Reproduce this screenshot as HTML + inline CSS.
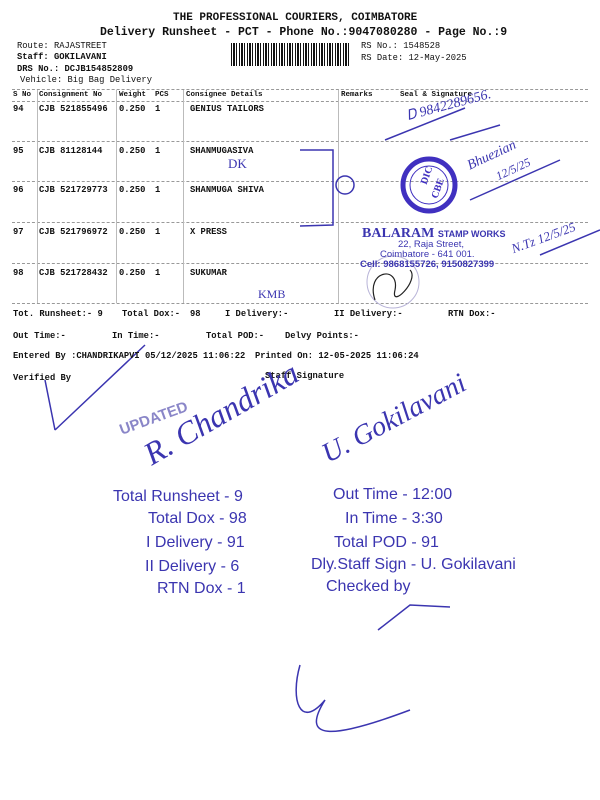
<!DOCTYPE html>
<html><head><meta charset="utf-8"><style>
body{margin:0;width:600px;height:800px;background:#fff;position:relative;overflow:hidden;font-family:"Liberation Mono",monospace;color:#111}
.t{position:absolute;white-space:nowrap;font-size:8.8px;font-weight:bold}
.h{position:absolute;white-space:nowrap;font-family:"Liberation Serif",serif;font-style:italic;color:#3b35b0}
.hl{position:absolute;border-top:1px dashed #999;left:12px;width:576px}
.vl{position:absolute;border-left:1px solid #bbb;top:90px;height:213px}
.g{position:absolute;white-space:nowrap;font-family:"Liberation Sans",sans-serif;color:#3b35b0;font-size:16px}
</style></head><body>
<div class="t" style="left:173px;top:12px;font-size:11px">THE PROFESSIONAL COURIERS, COIMBATORE</div>
<div class="t" style="left:100px;top:26px;font-size:11.5px">Delivery Runsheet - PCT - Phone No.:9047080280 - Page No.:9</div>
<div class="t" style="left:17px;top:41px;font-weight:normal">Route: RAJASTREET</div>
<div class="t" style="left:17px;top:52px">Staff: GOKILAVANI</div>
<div class="t" style="left:17px;top:64px">DRS No.: DCJB154852809</div>
<div class="t" style="left:20px;top:75px;font-weight:normal">Vehicle: Big Bag Delivery</div>
<div style="position:absolute;left:231px;top:43px;width:120px;height:23px;background:repeating-linear-gradient(90deg,#111 0 1px,#fff 1px 2px,#111 2px 4px,#fff 4px 5px,#111 5px 6px,#fff 6px 8px)"></div>
<div class="t" style="left:361px;top:41px;font-weight:normal">RS No.: 1548528</div>
<div class="t" style="left:361px;top:53px;font-weight:normal">RS Date: 12-May-2025</div>
<div class="hl" style="top:89px"></div><div class="hl" style="top:101px"></div>
<div class="hl" style="top:141px"></div><div class="hl" style="top:181px"></div>
<div class="hl" style="top:222px"></div><div class="hl" style="top:263px"></div>
<div class="hl" style="top:303px"></div>
<div class="vl" style="left:37px"></div><div class="vl" style="left:116px"></div><div class="vl" style="left:183px"></div><div class="vl" style="left:338px"></div>
<div class="t" style="left:13px;top:91px;font-size:7.5px">S No</div>
<div class="t" style="left:39px;top:91px;font-size:7.5px">Consignment No</div>
<div class="t" style="left:119px;top:91px;font-size:7.5px">Weight</div>
<div class="t" style="left:155px;top:91px;font-size:7.5px">PCS</div>
<div class="t" style="left:186px;top:91px;font-size:7.5px">Consignee Details</div>
<div class="t" style="left:341px;top:91px;font-size:7.5px">Remarks</div>
<div class="t" style="left:400px;top:91px;font-size:7.5px">Seal &amp; Signature</div>
<div class="t" style="left:13px;top:104px">94</div><div class="t" style="left:39px;top:104px">CJB 521855496</div><div class="t" style="left:119px;top:104px">0.250</div><div class="t" style="left:155px;top:104px">1</div><div class="t" style="left:190px;top:104px">GENIUS TAILORS</div>
<div class="t" style="left:13px;top:146px">95</div><div class="t" style="left:39px;top:146px">CJB 81128144</div><div class="t" style="left:119px;top:146px">0.250</div><div class="t" style="left:155px;top:146px">1</div><div class="t" style="left:190px;top:146px">SHANMUGASIVA</div>
<div class="t" style="left:13px;top:185px">96</div><div class="t" style="left:39px;top:185px">CJB 521729773</div><div class="t" style="left:119px;top:185px">0.250</div><div class="t" style="left:155px;top:185px">1</div><div class="t" style="left:190px;top:185px">SHANMUGA SHIVA</div>
<div class="t" style="left:13px;top:227px">97</div><div class="t" style="left:39px;top:227px">CJB 521796972</div><div class="t" style="left:119px;top:227px">0.250</div><div class="t" style="left:155px;top:227px">1</div><div class="t" style="left:190px;top:227px">X PRESS</div>
<div class="t" style="left:13px;top:268px">98</div><div class="t" style="left:39px;top:268px">CJB 521728432</div><div class="t" style="left:119px;top:268px">0.250</div><div class="t" style="left:155px;top:268px">1</div><div class="t" style="left:190px;top:268px">SUKUMAR</div>
<div class="h" style="left:228px;top:156px;font-size:13px;font-style:normal">DK</div>
<div class="h" style="left:258px;top:287px;font-size:12px;font-style:normal">KMB</div>
<svg style="position:absolute;left:0;top:0" width="600" height="800">
<g fill="none" stroke="#3b35b0" stroke-width="1.5">
<path d="M300 150 L333 150 L333 225 L300 226"/><circle cx="345" cy="185" r="9"/>
<path d="M385 140 L465 108 M450 140 L500 125 M470 200 L560 160 M540 255 L600 230"/>
<path d="M55 430 L45 380 M55 430 L145 345"/>
<path d="M378 630 L410 605 L450 607"/>
<path d="M300 665 C290 700 300 730 325 700 C300 740 330 740 410 710"/>
</g>
<circle cx="429" cy="185" r="26" fill="none" stroke="#4030c0" stroke-width="5"/>
<circle cx="429" cy="185" r="19" fill="none" stroke="#4030c0" stroke-width="1"/>
<circle cx="393" cy="282" r="26" fill="none" stroke="#b8b4d8" stroke-width="1"/>
<path d="M375 300 C365 270 400 265 395 290 C390 310 420 280 410 270" fill="none" stroke="#222" stroke-width="1.2"/>
</svg>
<div class="t" style="left:418px;top:170px;color:#4030c0;font-family:'Liberation Serif',serif;font-size:10px;transform:rotate(-70deg)">DIC</div>
<div class="t" style="left:428px;top:183px;color:#4030c0;font-family:'Liberation Serif',serif;font-size:10px;transform:rotate(-70deg)">CBE</div>
<div class="h" style="left:406px;top:98px;font-size:14px;transform:rotate(-15deg)">Ꭰ 9842289656.</div>
<div class="h" style="left:466px;top:148px;font-size:14px;transform:rotate(-25deg)">Bhuezian</div>
<div class="h" style="left:495px;top:162px;font-size:12px;transform:rotate(-25deg)">12/5/25</div>
<div class="h" style="left:510px;top:230px;font-size:13px;transform:rotate(-20deg)">N.Tz 12/5/25</div>
<div class="t" style="left:362px;top:226px;color:#3b35b0;font-family:'Liberation Serif',serif;font-size:14px">BALARAM <span style="font-family:'Liberation Sans',sans-serif;font-size:9px">STAMP WORKS</span></div>
<div class="t" style="left:398px;top:239px;color:#3b35b0;font-family:'Liberation Sans',sans-serif;font-size:9.5px;font-weight:normal">22, Raja Street,</div>
<div class="t" style="left:380px;top:249px;color:#3b35b0;font-family:'Liberation Sans',sans-serif;font-size:9.5px;font-weight:normal">Coimbatore - 641 001.</div>
<div class="t" style="left:360px;top:259px;color:#3b35b0;font-family:'Liberation Sans',sans-serif;font-size:9.5px">Cell: 9868155726, 9150827399</div>
<div class="t" style="left:13px;top:309px">Tot. Runsheet:- 9</div><div class="t" style="left:122px;top:309px">Total Dox:-</div><div class="t" style="left:190px;top:309px">98</div><div class="t" style="left:225px;top:309px">I Delivery:-</div><div class="t" style="left:334px;top:309px">II Delivery:-</div><div class="t" style="left:448px;top:309px">RTN Dox:-</div>
<div class="t" style="left:13px;top:331px">Out Time:-</div><div class="t" style="left:112px;top:331px">In Time:-</div><div class="t" style="left:206px;top:331px">Total POD:-</div><div class="t" style="left:285px;top:331px">Delvy Points:-</div>
<div class="t" style="left:13px;top:351px">Entered By :CHANDRIKAPVI 05/12/2025 11:06:22</div><div class="t" style="left:255px;top:351px">Printed On: 12-05-2025 11:06:24</div>
<div class="t" style="left:13px;top:373px">Verified By</div><div class="t" style="left:265px;top:371px">Staff Signature</div>
<div class="t" style="left:118px;top:410px;color:#8a86c8;font-family:'Liberation Sans',sans-serif;font-size:15px;transform:rotate(-20deg)">UPDATED</div>
<div class="h" style="left:135px;top:395px;font-size:32px;transform:rotate(-30deg)">R. Chandrika</div>
<div class="h" style="left:315px;top:403px;font-size:28px;transform:rotate(-28deg)">U. Gokilavani</div>
<div class="g" style="left:113px;top:488px">Total Runsheet - 9</div>
<div class="g" style="left:148px;top:510px">Total Dox - 98</div>
<div class="g" style="left:146px;top:534px">I Delivery - 91</div>
<div class="g" style="left:145px;top:558px">II Delivery - 6</div>
<div class="g" style="left:157px;top:580px">RTN Dox - 1</div>
<div class="g" style="left:333px;top:486px">Out Time - 12:00</div>
<div class="g" style="left:345px;top:510px">In Time - 3:30</div>
<div class="g" style="left:334px;top:534px">Total POD - 91</div>
<div class="g" style="left:311px;top:556px">Dly.Staff Sign - U. Gokilavani</div>
<div class="g" style="left:326px;top:578px">Checked by</div>
</body></html>
